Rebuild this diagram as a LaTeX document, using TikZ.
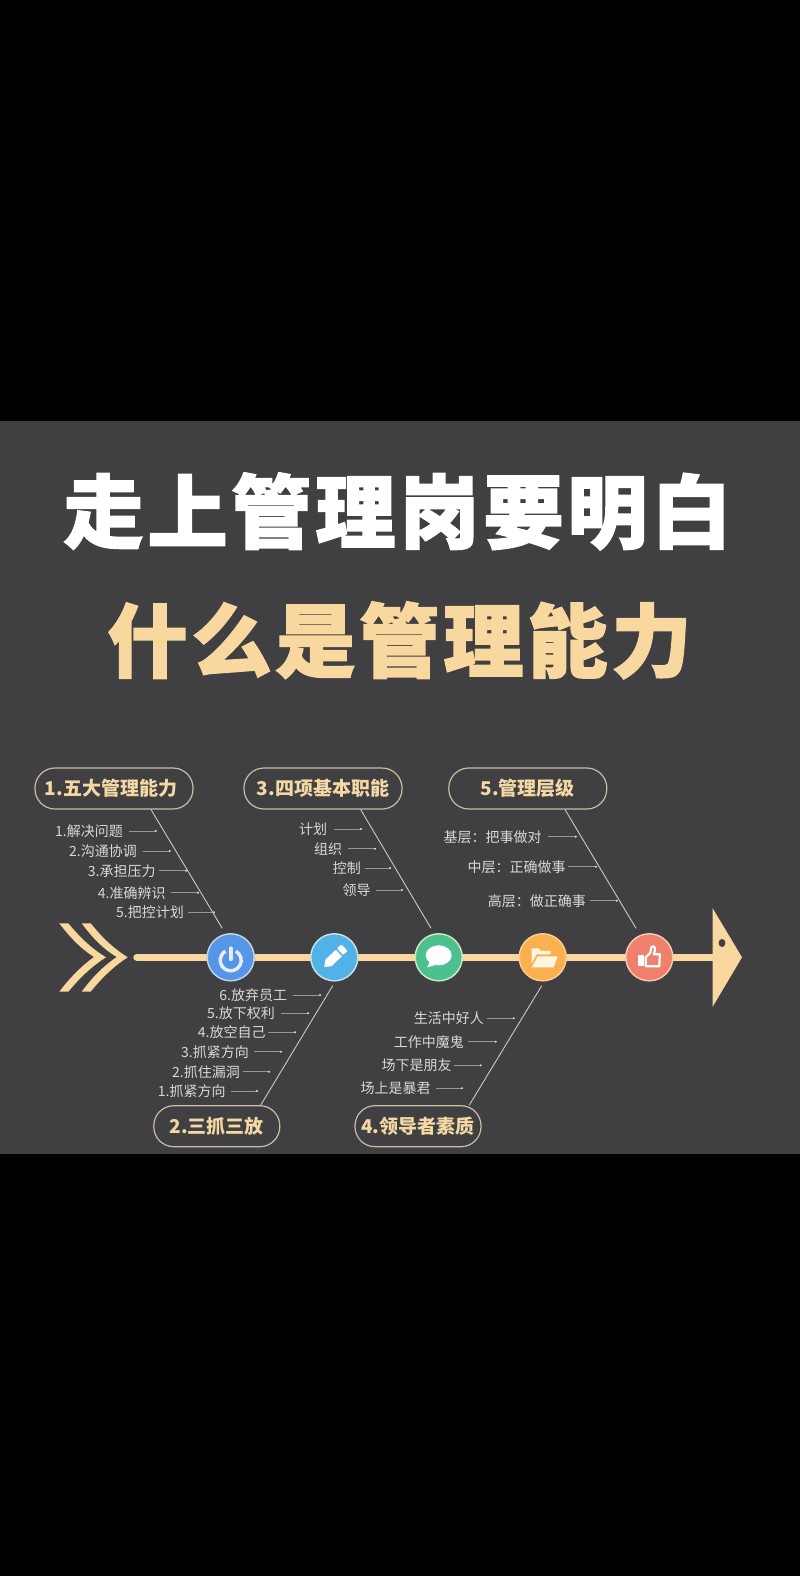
\documentclass[tikz,border=0pt]{standalone}
\usepackage{fontspec}
\usetikzlibrary{arrows.meta}
\setmainfont{Noto Sans CJK SC}
\newfontfamily\cjk{Noto Sans CJK SC}
\newfontfamily\titlefont[LetterSpace=5,BoldFeatures={FakeBold=2,LetterSpace=5}]{Noto Sans CJK SC}
\definecolor{panel}{HTML}{403F42}
\definecolor{gold}{HTML}{F8D89E}
\definecolor{pillline}{HTML}{C8BEA4}
\definecolor{pilltext}{HTML}{F3D8A4}
\definecolor{diag}{HTML}{D4CAB2}
\definecolor{lbl}{HTML}{D8D8D8}
\definecolor{lead}{HTML}{969696}
\definecolor{cblue}{HTML}{5596E8}
\definecolor{rblue}{HTML}{BED2E1}
\definecolor{csky}{HTML}{50B2E6}
\definecolor{rsky}{HTML}{C3E1E1}
\definecolor{cgreen}{HTML}{4CC08E}
\definecolor{rgreen}{HTML}{C8E8BE}
\definecolor{corange}{HTML}{FBB050}
\definecolor{rorange}{HTML}{FACD8C}
\definecolor{cred}{HTML}{EE806C}
\definecolor{rred}{HTML}{FAC8AA}
\definecolor{cream}{HTML}{FFF6E2}
\tikzset{
  titletext/.style={anchor=base,inner sep=0,font=\titlefont\bfseries\fontsize{80}{90}\selectfont},
  pill/.style={draw=pillline,line width=1.2pt,rounded corners=20pt,minimum height=41pt,inner sep=0,text=pilltext,
    font=\cjk\bfseries\fontsize{19}{22}\selectfont},
  lbltext/.style={anchor=east,inner sep=0,text=lbl,text height=12.3pt,text depth=1.7pt,font=\cjk\fontsize{14}{16}\selectfont},
  leaderline/.style={draw=lead,line width=0.5pt,-{Circle[length=2pt,color=lbl]}},
  diagline/.style={draw=diag,line width=0.9pt},
  badge/.style={circle,minimum size=47pt,inner sep=0,line width=1.5pt},
  spine/.style={draw=gold,line width=7.5pt,line cap=round},
  goldshape/.style={fill=gold}
}
\newcommand\lbitem[6]{%
  \node[lbltext] (#1) at (#2,#3) {#6};
  \coordinate (#1t) at (#5,#3);
  \draw[leaderline,shorten <=#4pt] (#1.east) -- (#1t);
}
\begin{document}
\begin{tikzpicture}[x=1pt,y=-1pt]
\fill[black] (0,0) rectangle (800,1576);
\path[use as bounding box] (0,0) rectangle (800,1576);
\fill[panel] (0,421) rectangle (800,1154);

\node[titletext,text=white] (t1) at (397.5,541.9) {走上管理岗要明白};
\node[titletext,text=gold] (t2) at (399.5,670.9) {什么是管理能力};

% chevrons
\fill[goldshape] (59.3,923.3) -- (68.3,923.3) .. controls (82,940) and (94,950) .. (106,957.3)
  .. controls (94,965) and (82,975) .. (68.3,991.7) -- (59.3,991.7) .. controls (72,975) and (83,965) .. (94,957)
  .. controls (83,950) and (72,940) .. (59.3,923.3) -- cycle;
\fill[goldshape] (81.7,923.3) -- (90.7,923.3) .. controls (104,940) and (116,950) .. (127.7,957.3)
  .. controls (116,965) and (104,975) .. (90.7,991.7) -- (81.7,991.7) .. controls (94,975) and (105,965) .. (116.7,957)
  .. controls (105,950) and (94,940) .. (81.7,923.3) -- cycle;

% spine and arrow head
\coordinate (sS) at (137,957.3);
\coordinate (sE) at (714,957.3);
\draw[spine] (sS) -- (sE);
\fill[goldshape] (712.5,908) -- (742,957.3) -- (712.5,1007) -- cycle;
\fill[panel] (722,943) ellipse[x radius=3.4,y radius=4];

% badges
\node[badge,fill=cblue,draw=rblue] (c1) at (230.7,957.3) {};
\node[badge,fill=csky,draw=rsky] (c2) at (334.3,957.3) {};
\node[badge,fill=cgreen,draw=rgreen] (c3) at (438.7,957.3) {};
\node[badge,fill=corange,draw=rorange] (c4) at (542.7,957.3) {};
\node[badge,fill=cred,draw=rred] (c5) at (649.3,957.3) {};

% power icon
\begin{scope}[shift={(c1.center)},y=1pt]
  \draw[white!92!blue,line width=3.4pt] ([shift={(60:10.5)}]0,-3) arc[start angle=60,end angle=-240,radius=10.5];
  \draw[white!92!blue,line width=3.8pt,line cap=round] (0,9) -- (0,-2);
\end{scope}
% pencil icon
\begin{scope}[shift={(c2.center)},y=1pt,rotate=44]
  \fill[white] (-14,0) -- (-8,-4.5) -- (6.2,-4.5) -- (6.2,4.5) -- (-8,4.5) -- cycle;
  \fill[white,rounded corners=1pt] (8,-4.5) rectangle (14,4.5);
\end{scope}
% speech bubble icon
\begin{scope}[shift={(c3.center)},y=1pt]
  \fill[white] (0,2) ellipse[x radius=13,y radius=10];
  \fill[white] (-8,-3) -- (-11.5,-10) -- (-1,-7) -- cycle;
\end{scope}
% folder icon
\begin{scope}[shift={(c4.center)},y=1pt]
  \fill[cream] (-11,9) -- (-4,9) -- (-2,6.5) -- (8,6.5) -- (8,3) -- (-6,3) -- (-11,-6) -- cycle;
  \fill[cream] (-5,1) -- (15,1) -- (11,-10) -- (-11,-10) -- cycle;
\end{scope}
% thumb icon
\begin{scope}[shift={(c5.center)},y=1pt]
  \fill[white] (-11,2) rectangle (-5.3,-9);
  \draw[white,line width=2.2pt,line join=round] (-3.5,-9) -- (-3.5,0) -- (1,4.5) -- (2,10) .. controls (4,12) and (6,11) .. (5.5,7) -- (4.5,3) -- (10.5,3) -- (10,-9) -- cycle;
\end{scope}

% pills
\node[pill,minimum width=158pt] (p1) at (114,788.5) {1.五大管理能力\kern6pt};
\node[pill,minimum width=158pt] (p3) at (323,788.5) {3.四项基本职能};
\node[pill,minimum width=158pt] (p5) at (527.8,788.5) {5.管理层级};
\node[pill,minimum width=126pt] (p2) at (216.8,1126.2) {2.三抓三放};
\node[pill,minimum width=126pt] (p4) at (418,1126.2) {4.领导者素质};

% diagonals
\draw[diagline] ([shift={(37,0)}]p1.south) -- ([shift={(-8.4,-29)}]c1.center);
\draw[diagline] ([shift={(37.7,0)}]p3.south) -- ([shift={(-7.7,-29)}]c3.center);
\draw[diagline] ([shift={(37.2,0)}]p5.south) -- ([shift={(-13.3,-29)}]c5.center);
\draw[diagline] ([shift={(43.9,0)}]p2.north) -- ([shift={(-1.6,28.4)}]c2.center);
\draw[diagline] ([shift={(51.3,0)}]p4.north) -- ([shift={(-1,28.4)}]c4.center);

% labels of 1
\lbitem{a1}{123}{831}{6}{156.7}{1.解决问题}
\lbitem{a2}{137}{851}{6}{170.7}{2.沟通协调}
\lbitem{a3}{155.7}{870.7}{3.5}{187}{3.承担压力}
\lbitem{a4}{165.7}{892.7}{5.5}{199}{4.准确辨识}
\lbitem{a5}{184}{912.3}{4}{215}{5.把控计划}
% labels of 3
\lbitem{b1}{327.3}{829}{6.5}{362}{计划}
\lbitem{b2}{342.3}{848.7}{5.7}{376}{组织}
\lbitem{b3}{361}{868}{4}{391}{控制}
\lbitem{b4}{370.7}{890}{5.3}{403}{领导}
% labels of 5
\lbitem{e1}{541.7}{836.7}{6.3}{576.7}{基层：把事做对}
\lbitem{e2}{565.7}{866.7}{2.3}{597}{中层：正确做事}
\lbitem{e3}{586}{900.7}{4}{617.7}{高层：做正确事}
% labels of 2
\lbitem{f6}{287.3}{995}{5.4}{321}{6.放弃员工}
\lbitem{f5}{275}{1013.3}{6}{309}{5.放下权利}
\lbitem{f4}{265.7}{1032.3}{2.3}{296}{4.放空自己}
\lbitem{f3}{249}{1051.7}{5}{282}{3.抓紧方向}
\lbitem{f2}{240}{1071.7}{3}{270}{2.抓住漏洞}
\lbitem{f1}{225.7}{1091}{5.3}{258}{1.抓紧方向}
% labels of 4
\lbitem{g4}{484}{1018.3}{2.7}{514.7}{生活中好人}
\lbitem{g3}{464}{1041.7}{4}{496.7}{工作中魔鬼}
\lbitem{g2}{451.7}{1065.3}{2.3}{481.7}{场下是朋友}
\lbitem{g1}{430.7}{1088.3}{5}{463}{场上是暴君}
\end{tikzpicture}
\end{document}
